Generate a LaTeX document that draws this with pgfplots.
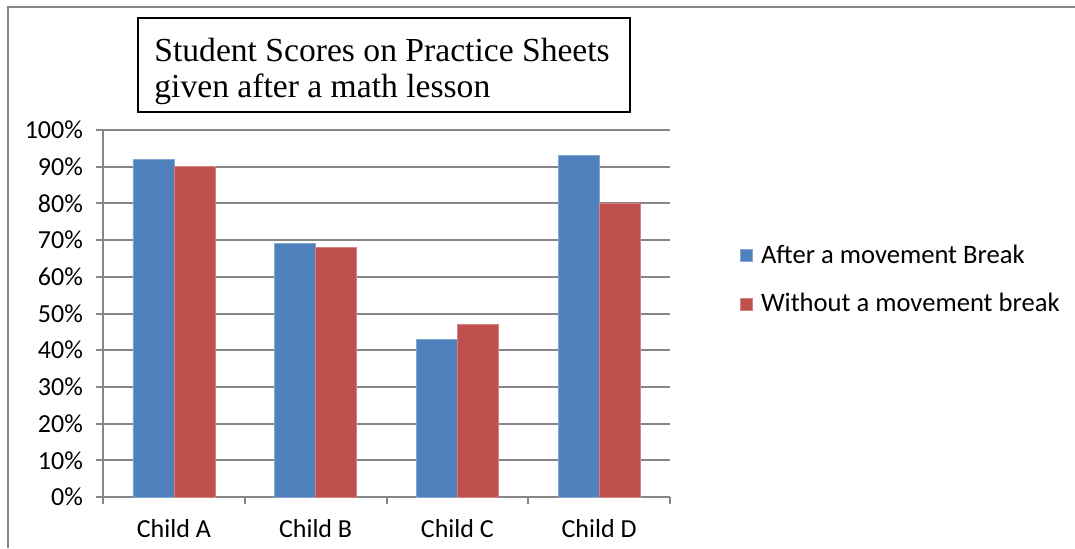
\documentclass[border=0pt]{standalone}
\usepackage{pgfplots}
\pgfplotsset{compat=1.18}
\usepackage{fontspec}
\setmainfont{Carlito}
\newfontfamily\timesfont{Liberation Serif}
\definecolor{gridgray}{HTML}{868686}
\definecolor{barblue}{HTML}{4F81BD}
\definecolor{barred}{HTML}{C0504D}
\pgfplotstableread{
x after without
0 92 90
1 69 68
2 43 47
3 93 80
}\scores
\begin{document}
\begin{tikzpicture}[x=1pt,y=1pt]
\path[use as bounding box] (0,0) rectangle (537.5,274);
\draw[gridgray, line width=1pt] (4,0) -- (4,270.5) -- (537.5,270.5);
\begin{axis}[
  at={(51.5pt,25.5pt)}, anchor=south west,
  scale only axis, width=283.5pt, height=183.5pt,
  ybar=0pt, bar width=20.5pt,
  xmin=-0.5, xmax=3.5, ymin=0, ymax=100,
  axis x line=bottom, axis y line=left,
  x axis line style={-}, y axis line style={-},
  axis line style={draw=gridgray, line width=1pt},
  ymajorgrids, grid style={gridgray, line width=1pt},
  tick align=outside, major tick length=3.5pt,
  tick style={gridgray, line width=1pt},
  ytick={0,10,...,100},
  yticklabels={0\%,10\%,20\%,30\%,40\%,50\%,60\%,70\%,80\%,90\%,100\%},
  xtick={-0.5,0.5,1.5,2.5,3.5}, xticklabels={},
  extra x ticks={0,1,2,3},
  extra x tick labels={Child A,Child B,Child C,Child D},
  extra x tick style={major tick length=0pt, grid=none, xticklabel style={yshift=-7.5pt}},
  tick label style={font=\fontsize{13}{15}\selectfont},
  yticklabel style={xshift=-3pt},
  legend style={at={(1.1235,0.592)}, anchor=west, draw=none, fill=none,
    font=\fontsize{13.3}{16}\selectfont, row sep=9.5pt, inner sep=0pt,
    legend cell align=left,
    nodes={inner xsep=4pt}},
  legend image code/.code={\fill[#1] (0pt,-3pt) rectangle (6pt,3pt);},
]
\addplot[fill=barblue, draw=barblue!70!white, line width=0.3pt] table[x=x,y=after] {\scores};
\addplot[fill=barred, draw=barred!70!white, line width=0.3pt] table[x=x,y=without] {\scores};
\legend{After a movement Break, Without a movement break}
\end{axis}
\draw[black, line width=1pt] (69,265) rectangle (315,218);
\node[anchor=west, align=left, inner sep=0pt, font=\timesfont\fontsize{16.8}{18}\selectfont] at (77,238.5) {Student Scores on Practice Sheets\\given after a math lesson};
\end{tikzpicture}
\end{document}
